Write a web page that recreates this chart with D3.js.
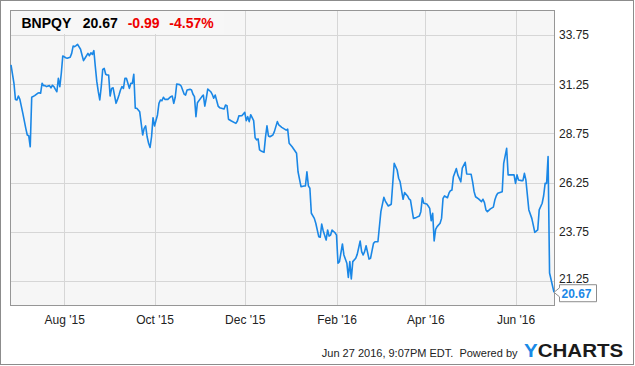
<!DOCTYPE html>
<html><head><meta charset="utf-8">
<script src="https://cdn.jsdelivr.net/npm/d3@7/dist/d3.min.js"></script>
<style>
html,body{margin:0;padding:0;background:#fff;}
svg{display:block;font-family:"Liberation Sans",Arial,Helvetica,sans-serif;}
</style></head><body>
<svg id="chart" width="635" height="366"></svg>
<script>
const ticker = "BNPQY";
const lastPriceText = "20.67";
const changeText = "-0.99";
const changePctText = "-4.57%";
const footerText = "Jun 27 2016, 9:07PM EDT.  Powered by";
const logoY = "Y";
const logoRest = "CHARTS";

const dates = [
"2015-06-26","2015-06-28","2015-06-29","2015-06-30","2015-07-01","2015-07-02","2015-07-04","2015-07-06","2015-07-07","2015-07-08",
"2015-07-09","2015-07-10","2015-07-12","2015-07-14","2015-07-15","2015-07-16","2015-07-17","2015-07-18","2015-07-19","2015-07-20",
"2015-07-22","2015-07-23","2015-07-24","2015-07-25","2015-07-26","2015-07-27","2015-07-28","2015-07-29","2015-07-30","2015-07-31",
"2015-08-02","2015-08-03","2015-08-05","2015-08-06","2015-08-07","2015-08-08","2015-08-09","2015-08-10","2015-08-12","2015-08-13",
"2015-08-14","2015-08-15","2015-08-17","2015-08-18","2015-08-19","2015-08-20","2015-08-21","2015-08-22","2015-08-23","2015-08-24",
"2015-08-25","2015-08-26","2015-08-27","2015-08-28","2015-08-29","2015-08-30","2015-08-31","2015-09-01","2015-09-02","2015-09-03",
"2015-09-05","2015-09-06","2015-09-07","2015-09-08","2015-09-09","2015-09-10","2015-09-11","2015-09-12","2015-09-13","2015-09-14",
"2015-09-15","2015-09-16","2015-09-17","2015-09-18","2015-09-19","2015-09-21","2015-09-22","2015-09-23","2015-09-24","2015-09-25",
"2015-09-26","2015-09-27","2015-09-28","2015-09-29","2015-09-30","2015-10-01","2015-10-03","2015-10-04","2015-10-05","2015-10-06",
"2015-10-07","2015-10-08","2015-10-10","2015-10-12","2015-10-13","2015-10-14","2015-10-15","2015-10-16","2015-10-18","2015-10-19",
"2015-10-21","2015-10-22","2015-10-23","2015-10-25","2015-10-26","2015-10-27","2015-10-28","2015-10-29","2015-10-30","2015-11-02",
"2015-11-03","2015-11-04","2015-11-05","2015-11-06","2015-11-08","2015-11-09","2015-11-10","2015-11-11","2015-11-13","2015-11-14",
"2015-11-17","2015-11-18","2015-11-19","2015-11-20","2015-11-22","2015-11-25","2015-11-26","2015-11-27","2015-11-29","2015-12-01",
"2015-12-02","2015-12-03","2015-12-04","2015-12-05","2015-12-06","2015-12-07","2015-12-08","2015-12-09","2015-12-10","2015-12-11",
"2015-12-12","2015-12-14","2015-12-15","2015-12-16","2015-12-17","2015-12-18","2015-12-20","2015-12-21","2015-12-23","2015-12-24",
"2015-12-26","2015-12-29","2015-12-30","2015-12-31","2016-01-02","2016-01-05","2016-01-06","2016-01-08","2016-01-10","2016-01-11",
"2016-01-12","2016-01-13","2016-01-14","2016-01-15","2016-01-17","2016-01-18","2016-01-20","2016-01-21","2016-01-22","2016-01-23",
"2016-01-25","2016-01-26","2016-01-27","2016-01-28","2016-01-29","2016-01-31","2016-02-01","2016-02-02","2016-02-03","2016-02-05",
"2016-02-06","2016-02-08","2016-02-09","2016-02-10","2016-02-11","2016-02-12","2016-02-14","2016-02-15","2016-02-17","2016-02-18",
"2016-02-19","2016-02-20","2016-02-21","2016-02-23","2016-02-24","2016-02-26","2016-02-27","2016-02-29","2016-03-02","2016-03-04",
"2016-03-05","2016-03-07","2016-03-09","2016-03-11","2016-03-13","2016-03-14","2016-03-15","2016-03-17","2016-03-18","2016-03-20",
"2016-03-21","2016-03-22","2016-03-24","2016-03-26","2016-03-28","2016-03-29","2016-03-30","2016-03-31","2016-04-02","2016-04-03",
"2016-04-04","2016-04-05","2016-04-06","2016-04-07","2016-04-08","2016-04-09","2016-04-11","2016-04-12","2016-04-13","2016-04-14",
"2016-04-16","2016-04-17","2016-04-18","2016-04-19","2016-04-20","2016-04-22","2016-04-23","2016-04-25","2016-04-26","2016-04-28",
"2016-04-29","2016-05-02","2016-05-03","2016-05-04","2016-05-05","2016-05-07","2016-05-09","2016-05-10","2016-05-11","2016-05-12",
"2016-05-13","2016-05-15","2016-05-17","2016-05-18","2016-05-19","2016-05-20","2016-05-23","2016-05-24","2016-05-26","2016-05-27",
"2016-05-29","2016-05-31","2016-06-01","2016-06-02","2016-06-03","2016-06-05","2016-06-06","2016-06-07","2016-06-08","2016-06-10",
"2016-06-12","2016-06-13","2016-06-14","2016-06-16","2016-06-17","2016-06-19","2016-06-20","2016-06-21","2016-06-22","2016-06-23",
"2016-06-24","2016-06-27"
];

const prices = [
32.23,31.30,30.48,30.45,30.65,30.48,29.77,29.01,28.67,28.63,
28.07,30.59,30.67,30.79,30.82,30.79,31.30,31.18,31.18,31.13,
31.18,31.07,31.20,31.13,30.99,30.87,31.55,31.13,31.81,32.69,
32.60,32.57,32.62,32.82,33.19,33.16,33.21,33.28,33.03,32.74,
32.45,32.57,32.82,32.70,32.85,32.77,32.96,32.14,31.38,30.87,
30.45,31.13,32.01,32.06,31.76,31.72,31.72,30.65,31.04,31.07,
30.28,30.48,30.70,30.96,31.13,31.04,31.55,31.55,31.30,31.04,
31.30,31.30,31.76,30.03,30.03,29.85,29.26,28.67,29.01,29.13,
28.58,28.25,28.04,28.58,29.55,29.13,29.69,30.28,30.45,30.41,
30.59,30.48,30.48,30.62,30.65,30.28,30.59,31.26,31.23,31.16,
30.75,30.70,30.96,30.99,30.96,30.74,30.62,29.60,30.31,30.62,
30.70,30.14,30.54,31.01,30.87,30.74,30.54,30.70,30.14,30.06,
29.99,30.19,30.16,29.47,29.38,29.26,29.38,29.64,29.65,29.82,
29.40,29.60,29.35,29.70,29.55,29.40,28.53,28.42,28.47,27.91,
27.86,27.79,28.55,29.14,28.62,28.58,28.67,28.84,29.35,29.18,
29.06,28.92,28.97,28.25,28.07,27.74,26.80,26.04,26.08,26.08,
26.80,26.08,25.96,24.69,24.43,24.18,23.50,23.47,24.14,23.80,
23.33,23.84,23.53,23.58,23.84,23.70,23.58,22.15,22.23,23.13,
22.57,22.15,21.43,22.23,21.35,22.23,22.40,22.60,23.28,22.74,
22.57,22.74,23.04,22.36,22.40,23.16,23.24,23.24,24.77,25.50,
25.31,25.06,25.15,27.23,26.89,26.47,26.29,25.40,25.74,25.57,
25.42,25.36,24.43,24.48,24.55,24.77,25.48,25.20,25.16,25.06,
24.94,24.31,24.69,23.28,23.87,24.01,24.18,24.43,25.45,25.57,
25.48,25.71,25.84,25.87,26.55,26.96,26.64,26.29,26.98,27.28,
26.69,26.67,26.29,25.79,25.53,25.42,25.28,25.40,25.23,24.86,
24.77,24.91,25.00,25.36,25.58,25.71,25.79,27.23,27.99,26.64,
26.64,26.64,26.21,26.64,26.38,26.35,26.35,26.72,26.38,24.86,
24.43,24.09,23.72,23.84,24.86,25.20,25.58,26.21,26.21,27.57,
21.65,20.67
];

const yTicks = [21.25, 23.75, 26.25, 28.75, 31.25, 33.75];
const xTickDates = ["2015-08-01","2015-10-01","2015-12-01","2016-02-01","2016-04-01","2016-06-01"];
const xDomain = ["2015-06-26","2016-06-27"];
const yDomain = [20, 35];

const parse = d3.utcParse("%Y-%m-%d");
const data = dates.map((d, i) => ({date: parse(d), value: prices[i]}));

const svg = d3.select("#chart");
const L = 10.5, R = 554.5, T = 10.5, B = 305.5;

const x = d3.scaleUtc().domain(xDomain.map(parse)).range([11, 554]);
const y = d3.scaleLinear().domain(yDomain).range([B, T]);

// outer frame
svg.append("rect").attr("x", 0.5).attr("y", 0.5).attr("width", 633).attr("height", 364)
  .attr("fill", "#fff").attr("stroke", "#8c8c8c").attr("stroke-width", 1);

// plot background
svg.append("rect").attr("x", L).attr("y", T).attr("width", R - L).attr("height", B - T)
  .attr("fill", "#f6f6f6");

// gridlines
const grid = svg.append("g").attr("stroke", "#d6d6d6").attr("stroke-width", 1);
grid.selectAll("line.h").data(yTicks).join("line").attr("class", "h")
  .attr("x1", L).attr("x2", R)
  .attr("y1", d => Math.round(y(d)) + 0.5).attr("y2", d => Math.round(y(d)) + 0.5);
grid.selectAll("line.v").data(xTickDates.map(parse)).join("line").attr("class", "v")
  .attr("y1", T).attr("y2", B)
  .attr("x1", d => Math.round(x(d)) + 0.5).attr("x2", d => Math.round(x(d)) + 0.5);

// title band
svg.append("rect").attr("x", 11).attr("y", 11).attr("width", 213).attr("height", 23).attr("fill", "#f7f7f7");
const title = svg.append("text").attr("x", 21.5).attr("y", 28.3)
  .attr("font-size", 14).attr("font-weight", "bold");
title.append("tspan").attr("fill", "#000").text(ticker);
title.append("tspan").attr("x", 82.7).attr("fill", "#000").text(lastPriceText);
title.append("tspan").attr("x", 127.7).attr("fill", "#ee0000").text(changeText);
title.append("tspan").attr("x", 169.3).attr("fill", "#ee0000").text(changePctText);

// plot frame
svg.append("rect").attr("x", L).attr("y", T).attr("width", R - L).attr("height", B - T)
  .attr("fill", "none").attr("stroke", "#969696").attr("stroke-width", 1);

// line
svg.append("path").datum(data)
  .attr("fill", "none").attr("stroke", "#1a87e6").attr("stroke-width", 1.6)
  .attr("stroke-linejoin", "round")
  .attr("d", d3.line().x(d => x(d.date)).y(d => y(d.value)));

// y axis
const yAxis = svg.append("g").attr("transform", `translate(${R},0)`)
  .call(d3.axisRight(y).tickValues(yTicks).tickFormat(d3.format(".2f")).tickSize(0).tickPadding(4.5));
yAxis.select(".domain").remove();
yAxis.selectAll("text").attr("font-size", 12).attr("fill", "#222")
  .attr("font-family", "'Liberation Sans', Arial, sans-serif");
// lowest label sits slightly raised, clear of the last-value callout
yAxis.selectAll(".tick").filter(d => d === yTicks[0]).select("text").attr("y", -2);

// x axis
const xAxis = svg.append("g").attr("transform", `translate(0,${B})`)
  .call(d3.axisBottom(x).tickValues(xTickDates.map(parse)).tickFormat(d3.utcFormat("%b '%y")).tickSize(0).tickPadding(9.5));
xAxis.select(".domain").remove();
xAxis.selectAll("text").attr("font-size", 12).attr("fill", "#222")
  .attr("font-family", "'Liberation Sans', Arial, sans-serif");

// last value callout
const last = data[data.length - 1];
const lx = x(last.date), ly = y(last.value);
const bx0 = 559.5, bx1 = 596.5, by0 = ly - 7.6, by1 = ly + 9.4;
svg.append("path")
  .attr("d", `M${lx},${ly} L${bx0},${ly - 4.5} L${bx0},${by0} L${bx1},${by0} L${bx1},${by1} L${bx0},${by1} L${bx0},${ly + 4.5} Z`)
  .attr("fill", "#fff").attr("stroke", "#8c8c8c").attr("stroke-width", 1);
svg.append("text").attr("x", 561.5).attr("y", ly + 5.4)
  .attr("font-size", 12).attr("font-weight", "bold").attr("fill", "#1a87e6")
  .text(d3.format(".2f")(last.value));

// footer
svg.append("text").attr("x", 517.5).attr("y", 356.7).attr("text-anchor", "end")
  .attr("font-size", 11).attr("fill", "#222").style("white-space", "pre").text(footerText);
const logo = svg.append("text").attr("x", 524).attr("y", 356.7)
  .attr("font-size", 19).attr("font-weight", "bold")
  .attr("textLength", 99.3).attr("lengthAdjust", "spacingAndGlyphs");
logo.append("tspan").attr("fill", "#1a8ae6").text(logoY);
logo.append("tspan").attr("fill", "#1a1a1a").text(logoRest);
</script>
</body></html>
